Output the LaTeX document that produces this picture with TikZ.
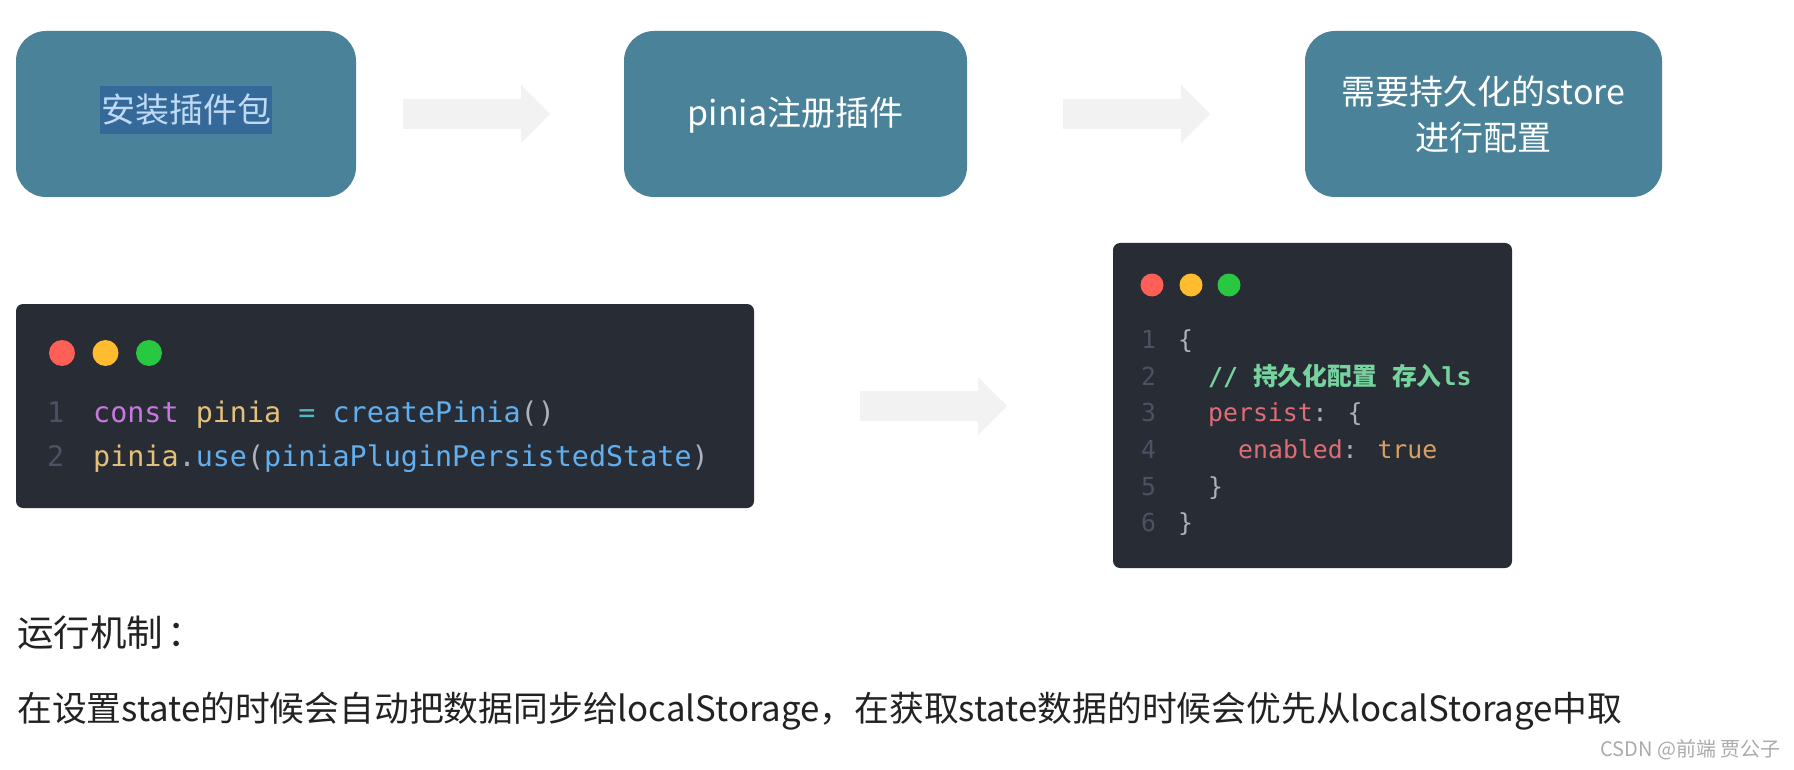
\documentclass[tikz,border=0pt]{standalone}
\usepackage{fontspec}
\setmainfont{Noto Sans CJK SC}
\newfontfamily\cjk{Noto Sans CJK SC}
\newfontfamily\mono{DejaVu Sans Mono}
\definecolor{boxblue}{HTML}{4A8399}
\definecolor{hlblue}{HTML}{35699A}
\definecolor{hltext}{HTML}{BFDAF4}
\definecolor{arrowfill}{HTML}{F2F2F2}
\definecolor{codebg}{HTML}{282C34}
\definecolor{dred}{HTML}{FF5F57}
\definecolor{dyellow}{HTML}{FEBC2E}
\definecolor{dgreen}{HTML}{28C840}
\definecolor{lnumgray}{HTML}{4B5263}
\definecolor{ckw}{HTML}{C678DD}
\definecolor{cvar}{HTML}{E5C07B}
\definecolor{cop}{HTML}{56B6C2}
\definecolor{cfn}{HTML}{61AFEF}
\definecolor{cpun}{HTML}{ABB2BF}
\definecolor{ccom}{HTML}{76D39E}
\definecolor{cprop}{HTML}{E06C75}
\definecolor{cbool}{HTML}{D8A062}
\definecolor{bodytext}{HTML}{222222}
\definecolor{wmgray}{HTML}{ABABAB}
\newcommand{\blkarrow}[3]{\fill[arrowfill] (#1,#3-15) -- (#2-29,#3-15) -- (#2-29,#3-29) -- (#2,#3) -- (#2-29,#3+29) -- (#2-29,#3+15) -- (#1,#3+15) -- cycle;}
\tikzset{
  topbox/.style={fill=boxblue, rounded corners=30pt, minimum height=166pt, inner sep=0pt},
  toptext/.style={text=white, font=\cjk\fontsize{34}{46}\selectfont, align=center, inner sep=0pt},
  codebox/.style={fill=codebg, rounded corners=7pt, inner sep=0pt},
  windot/.style={circle, inner sep=0pt},
  codeA/.style={anchor=west, inner sep=0pt, font=\mono\fontsize{28.4}{28.4}\selectfont, text height=19.9pt, text depth=0pt},
  codeB/.style={anchor=west, inner sep=0pt, font=\mono\fontsize{24.8}{24.8}\selectfont, text height=17.4pt, text depth=0pt},
  bodystyle/.style={anchor=west, inner sep=0pt, text=bodytext, font=\cjk\fontsize{34.8}{34.8}\selectfont, text height=30.6pt, text depth=4.2pt},
  headstyle/.style={anchor=west, inner sep=0pt, text=bodytext, font=\cjk\fontsize{36.5}{36.5}\selectfont, text height=32.1pt, text depth=4.4pt}
}
\begin{document}
\begin{tikzpicture}[x=1pt,y=-1pt]
\fill[white] (0,0) rectangle (1794,770);
\useasboundingbox (0,0) rectangle (1794,770);

% top row
\node[topbox, minimum width=340pt] (b1) at (186,114) {};
\node[fill=hlblue, text=hltext, font=\cjk\fontsize{34}{34}\selectfont, inner sep=0pt, minimum width=172pt, minimum height=48pt, text height=29.9pt, text depth=4.1pt] (t1) at (186,110) {安装插件包};
\node[topbox, minimum width=343pt] (b2) at (795.5,114) {};
\node[toptext] (t2) at (795.5,115) {pinia注册插件};
\node[topbox, minimum width=357pt] (b3) at (1483.5,114) {};
\node[toptext] (t3) at (1483.5,115) {需要持久化的store\\进行配置};

\blkarrow{403}{550}{114}
\blkarrow{1063}{1210}{114}

% code box 1
\node[codebox, minimum width=738pt, minimum height=204pt] (c1) at (385,406) {};
\node[windot, fill=dred, minimum size=26pt] (c1r) at (62,353) {};
\node[windot, fill=dyellow, minimum size=26pt] (c1y) at (105.5,353) {};
\node[windot, fill=dgreen, minimum size=26pt] (c1g) at (149,353) {};
\node[codeA, text=lnumgray] (c1n1) at (47,413) {1};
\node[codeA, text=lnumgray] (c1n2) at (47,457) {2};
\node[codeA] (c1l1) at (93,413) {\textcolor{ckw}{const} \textcolor{cvar}{pinia} \textcolor{cop}{=} \textcolor{cfn}{createPinia}\textcolor{cpun}{()}};
\node[codeA] (c1l2) at (93,457) {\textcolor{cvar}{pinia}\textcolor{cpun}{.}\textcolor{cfn}{use}\textcolor{cpun}{(}\textcolor{cfn}{piniaPluginPersistedState}\textcolor{cpun}{)}};

\blkarrow{860}{1007}{406}

% code box 2
\node[codebox, minimum width=399pt, minimum height=325pt] (c2) at (1312.5,405.5) {};
\node[windot, fill=dred, minimum size=23pt] (c2r) at (1152,285) {};
\node[windot, fill=dyellow, minimum size=23pt] (c2y) at (1191,285) {};
\node[windot, fill=dgreen, minimum size=23pt] (c2g) at (1229,285) {};
\node[codeB, text=lnumgray] (c2n1) at (1141,340) {1};
\node[codeB, text=lnumgray] (c2n2) at (1141,377) {2};
\node[codeB, text=lnumgray] (c2n3) at (1141,413) {3};
\node[codeB, text=lnumgray] (c2n4) at (1141,450) {4};
\node[codeB, text=lnumgray] (c2n5) at (1141,487) {5};
\node[codeB, text=lnumgray] (c2n6) at (1141,523) {6};
\node[codeB, text=cpun] (c2l1) at (1178,340) {\{};
\node[codeB, text=ccom] (c2l2) at (1208,377) {\bfseries //\hspace{15pt}{\cjk\bfseries 持久化配置}\hspace{15pt}{\cjk\bfseries 存入}ls};
\node[codeB] (c2l3) at (1208,413) {\textcolor{cprop}{persist}\textcolor{cpun}{: \{}};
\node[codeB] (c2l4) at (1238,450) {\textcolor{cprop}{enabled}\textcolor{cpun}{:} \textcolor{cbool}{true}};
\node[codeB, text=cpun] (c2l5) at (1208,487) {\}};
\node[codeB, text=cpun] (c2l6) at (1178,523) {\}};

% bottom text
\node[headstyle] (head) at (17,633) {运行机制\hspace{4pt}：};
\node[bodystyle] (body) at (17,708) {在设置state的时候会自动把数据同步给localStorage，在获取state数据的时候会优先从localStorage中取};
\node[anchor=east, inner sep=0pt, text=wmgray, font=\cjk\fontsize{20}{20}\selectfont] (wm) at (1781,750) {CSDN @前端 贾公子};
\end{tikzpicture}
\end{document}
